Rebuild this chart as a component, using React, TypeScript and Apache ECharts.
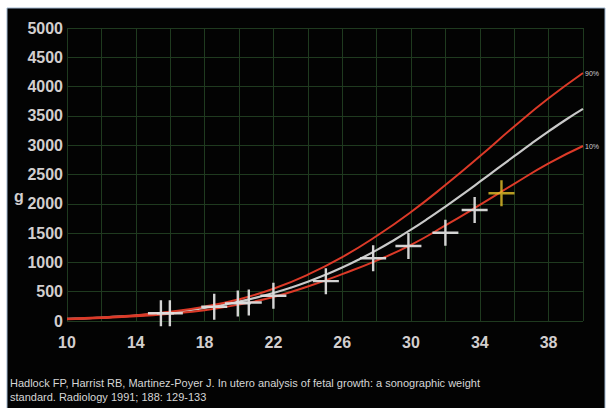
import React, { useEffect, useRef } from "react";
import * as echarts from "echarts";

// Gestational age (weeks) for the median curve
const weeksMedian = [10, 11, 12, 13, 14, 15, 16, 17, 18, 19, 20, 21, 22, 23, 24, 25, 26, 27, 28, 29, 30, 31, 32, 33, 34, 35, 36, 37, 38, 39, 40];
const median = [35, 45, 58, 73, 93, 117, 146, 181, 223, 273, 331, 399, 478, 568, 670, 785, 913, 1055, 1210, 1379, 1559, 1751, 1953, 2162, 2377, 2595, 2813, 3028, 3236, 3435, 3619];

// Percentile curves (every 2 weeks)
const weeksPct = [10, 12, 14, 16, 18, 20, 22, 24, 26, 28, 30, 32, 34, 36, 38, 40];
const p90 = [40, 62, 100, 160, 245, 370, 550, 790, 1090, 1450, 1860, 2320, 2810, 3320, 3800, 4232];
const p10 = [30, 50, 80, 125, 185, 280, 410, 590, 800, 1030, 1300, 1630, 1980, 2340, 2690, 2986];

// Measured estimates (white crosses) and the latest one (yellow)
const measGA = [15.46, 15.98, 18.56, 19.93, 20.57, 22.0, 25.05, 27.8, 29.85, 32.0, 33.7];
const measW = [132, 132, 242, 300, 315, 432, 680, 1070, 1280, 1507, 1894];
const latestGA = [35.26];
const latestW = [2179];

const xTicks = [10, 14, 18, 22, 26, 30, 34, 38];

const citation1 = "Hadlock FP, Harrist RB, Martinez-Poyer J. In utero analysis of fetal growth: a sonographic weight";
const citation2 = "standard. Radiology 1991; 188: 129-133";

const crossPath = "path://M11.8,0h2.4v26h-2.4zM0,11.8h26v2.4h-26z";

export default function App() {
  const ref = useRef<HTMLDivElement>(null);
  useEffect(() => {
    if (!ref.current) return;
    const chart = echarts.init(ref.current, null, { renderer: "svg" });
    const pair = (xs: number[], ys: number[]) => xs.map((x, i) => [x, ys[i]]);
    const labelFont = { color: "#d2cece", fontSize: 16, fontWeight: "bold" as const, fontFamily: "Liberation Sans, Arial, sans-serif" };
    chart.setOption({
      animation: false,
      backgroundColor: "#ffffff",
      graphic: [
        { type: "rect", z: -10, shape: { x: 7, y: 8, width: 598, height: 402 }, style: { fill: "#030303", stroke: "#9fb6cf", lineWidth: 1 } },
        { type: "text", x: 14, y: 188, style: { text: "g", fill: "#d2cece", font: "bold 16px Liberation Sans, Arial, sans-serif" } },
        { type: "text", x: 10, y: 377, style: { text: citation1, fill: "#d6d6d6", font: "11px Liberation Sans, Arial, sans-serif" } },
        { type: "text", x: 10, y: 391, style: { text: citation2, fill: "#d6d6d6", font: "11px Liberation Sans, Arial, sans-serif" } },
      ],
      grid: { left: 67, right: 27, top: 28, bottom: 87 },
      xAxis: {
        type: "value",
        min: 10,
        max: 40,
        interval: 2,
        axisLine: { show: false },
        axisTick: { show: false },
        splitLine: { show: true, lineStyle: { color: "#1f3a1f", width: 1 } },
        axisLabel: {
          ...labelFont,
          margin: 13,
          formatter: (v: number) => (xTicks.includes(v) ? String(v) : ""),
        },
      },
      yAxis: {
        type: "value",
        min: 0,
        max: 5000,
        interval: 500,
        axisLine: { show: false },
        axisTick: { show: false },
        splitLine: { show: true, lineStyle: { color: "#1f3a1f", width: 1 } },
        axisLabel: { ...labelFont, margin: 4, formatter: (v: number) => String(v) },
      },
      series: [
        {
          type: "line",
          data: pair(weeksMedian, median),
          smooth: true,
          symbol: "none",
          lineStyle: { color: "#c9c9c9", width: 2.2 },
          z: 2,
        },
        {
          type: "line",
          data: pair(weeksPct, p90),
          smooth: true,
          symbol: "none",
          lineStyle: { color: "#dc3a28", width: 2 },
          endLabel: { show: true, formatter: "90%", color: "#cfcfcf", fontSize: 7, distance: 2 },
          z: 3,
        },
        {
          type: "line",
          data: pair(weeksPct, p10),
          smooth: true,
          symbol: "none",
          lineStyle: { color: "#dc3a28", width: 2 },
          endLabel: { show: true, formatter: "10%", color: "#cfcfcf", fontSize: 7, distance: 2 },
          z: 3,
        },
        {
          type: "scatter",
          data: pair(measGA, measW),
          symbol: crossPath,
          symbolSize: 26,
          itemStyle: { color: "#dedede", opacity: 0.95 },
          z: 4,
        },
        {
          type: "scatter",
          data: pair(latestGA, latestW),
          symbol: crossPath,
          symbolSize: 26,
          itemStyle: { color: "#e6c22a" },
          z: 5,
        },
      ],
    });
    return () => chart.dispose();
  }, []);
  return <div ref={ref} style={{ position: "fixed", left: 0, top: 0, width: 610, height: 408 }} />;
}
